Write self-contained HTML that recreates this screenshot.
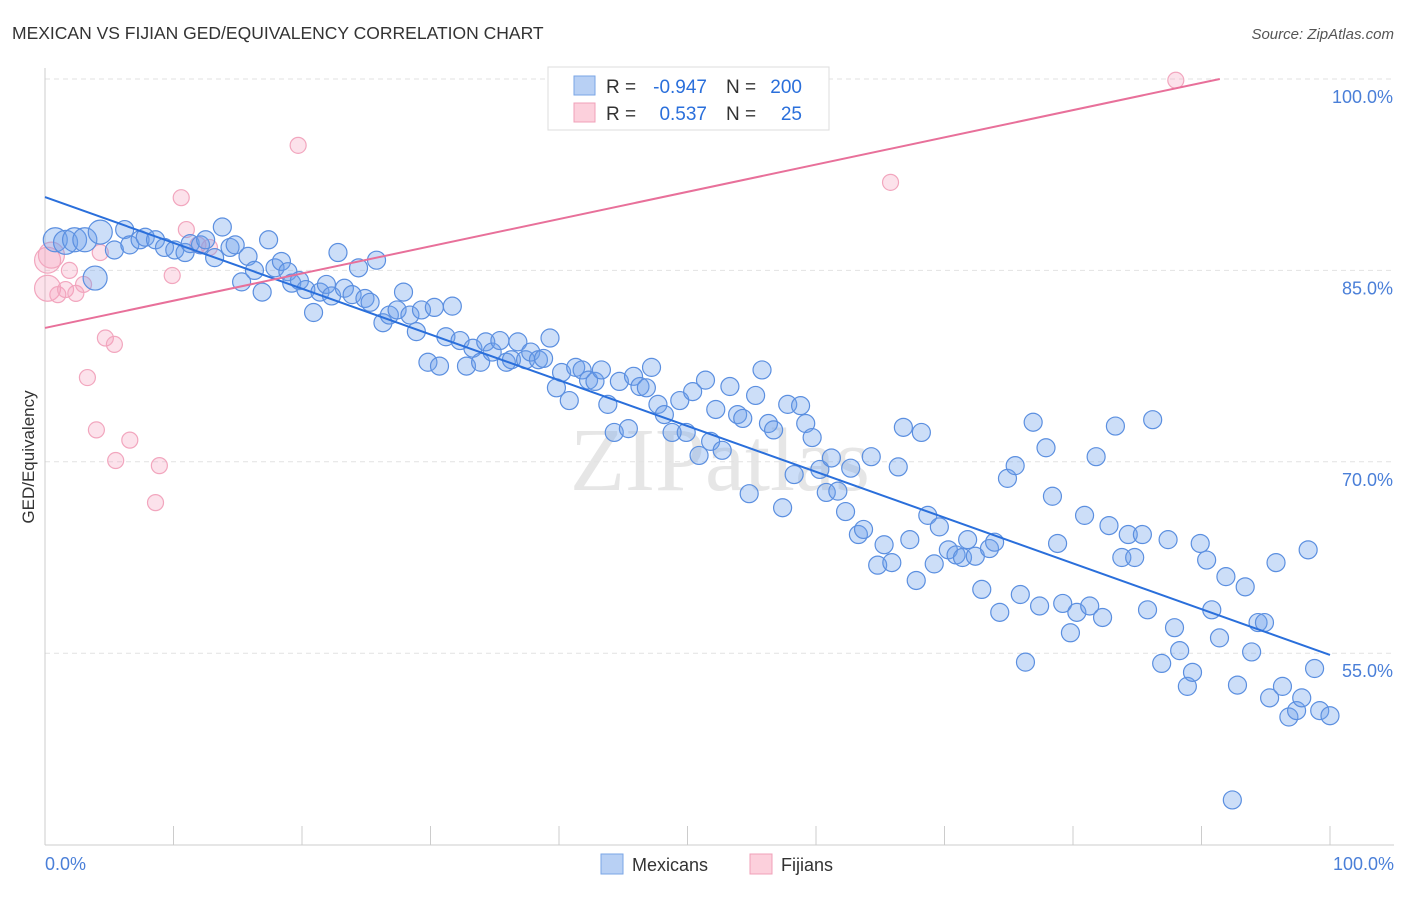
<!DOCTYPE html>
<html><head><meta charset="utf-8"><style>
body{margin:0;background:#fff;width:1406px;height:892px;overflow:hidden;font-family:"Liberation Sans",sans-serif}
</style></head><body>
<svg id="chart" width="1406" height="892" xmlns="http://www.w3.org/2000/svg">
<text x="12" y="39" font-size="17.5" fill="#333">MEXICAN VS FIJIAN GED/EQUIVALENCY CORRELATION CHART</text>
<text x="1394" y="39" font-size="15" fill="#555" font-style="italic" text-anchor="end">Source: ZipAtlas.com</text>
<text x="720" y="490" font-size="90" fill="#e6e6e6" text-anchor="middle" font-family="Liberation Serif,serif">ZIPatlas</text>
<g id="grid"></g>
<line x1="45" y1="68" x2="45" y2="845" stroke="#ccc"/>
<line x1="45" y1="845" x2="1394" y2="845" stroke="#ccc"/>
<g id="xticks"></g>
<g id="ylabels"></g>
<text x="45" y="870" font-size="18" fill="#4a7fd8">0.0%</text>
<text x="1394" y="870" font-size="18" fill="#4a7fd8" text-anchor="end">100.0%</text>
<text transform="translate(34,457) rotate(-90)" font-size="17" fill="#333" text-anchor="middle">GED/Equivalency</text>
<g id="pinkpts"></g>
<g id="bluepts"></g>
<g id="lines"></g>
<g font-size="19">
<rect x="548" y="67" width="281" height="63" fill="#fff" stroke="#ddd"/>
<rect x="574" y="76" width="21" height="19" fill="#b8d0f4" stroke="#7aa6e6"/>
<rect x="574" y="103" width="21" height="19" fill="#fcd0dc" stroke="#f0a0b8"/>
<text x="606" y="93" fill="#333">R =</text>
<text x="707" y="93" fill="#2a6fdb" text-anchor="end">-0.947</text>
<text x="726" y="93" fill="#333">N =</text>
<text x="802" y="93" fill="#2a6fdb" text-anchor="end">200</text>
<text x="606" y="120" fill="#333">R =</text>
<text x="707" y="120" fill="#2a6fdb" text-anchor="end">0.537</text>
<text x="726" y="120" fill="#333">N =</text>
<text x="802" y="120" fill="#2a6fdb" text-anchor="end">25</text>
</g>
<g>
<rect x="601" y="854" width="22" height="20" fill="#b8d0f4" stroke="#7aa6e6"/>
<text x="632" y="871" font-size="18" fill="#333">Mexicans</text>
<rect x="750" y="854" width="22" height="20" fill="#fcd0dc" stroke="#f0a0b8"/>
<text x="781" y="871" font-size="18" fill="#333">Fijians</text>
</g>
</svg>
<script>
const blueX=[0.8,1.6,2.3,3.1,3.9,4.3,5.4,6.2,6.6,7.4,7.8,8.6,9.3,10.1,10.9,11.3,12.1,12.5,13.2,13.8,14.4,14.8,15.3,15.8,16.3,16.9,17.4,17.9,18.4,18.9,19.2,19.8,20.3,20.9,21.4,21.9,22.3,22.8,23.3,23.9,24.4,24.9,25.3,25.8,26.3,26.8,27.4,27.9,28.4,28.9,29.3,29.8,30.3,30.7,31.2,31.7,32.3,32.8,33.3,33.9,34.3,34.8,35.4,35.9,36.3,36.8,37.4,37.8,38.4,38.8,39.3,39.8,40.2,40.8,41.3,41.8,42.3,42.8,43.3,43.8,44.3,44.7,45.4,45.8,46.3,46.8,47.2,47.7,48.2,48.8,49.4,49.9,50.4,50.9,51.4,51.8,52.2,52.7,53.3,53.9,54.3,54.8,55.3,55.8,56.3,56.7,57.4,57.8,58.3,58.8,59.2,59.7,60.3,60.8,61.2,61.7,62.3,62.7,63.3,63.7,64.3,64.8,65.3,65.9,66.4,66.8,67.3,67.8,68.2,68.7,69.2,69.6,70.3,70.9,71.4,71.8,72.4,72.9,73.5,73.9,74.3,74.9,75.5,75.9,76.3,76.9,77.4,77.9,78.4,78.8,79.2,79.8,80.3,80.9,81.3,81.8,82.3,82.8,83.3,83.8,84.3,84.8,85.4,85.8,86.2,86.9,87.4,87.9,88.3,88.9,89.3,89.9,90.4,90.8,91.4,91.9,92.4,92.8,93.4,93.9,94.4,94.9,95.3,95.8,96.3,96.8,97.4,97.8,98.3,98.8,99.2,100];
const blueY=[87.4,87.2,87.4,87.4,84.4,88.0,86.6,88.2,87.0,87.4,87.6,87.4,86.8,86.6,86.4,87.1,87.0,87.4,86.0,88.4,86.8,87.0,84.1,86.1,85.0,83.3,87.4,85.2,85.7,84.9,84.0,84.2,83.5,81.7,83.3,83.9,83.0,86.4,83.6,83.1,85.2,82.8,82.5,85.8,80.9,81.5,81.9,83.3,81.5,80.2,81.9,77.8,82.1,77.5,79.8,82.2,79.5,77.5,78.9,77.8,79.4,78.6,79.5,77.8,78.0,79.4,78.0,78.6,78.0,78.1,79.7,75.8,77.0,74.8,77.4,77.2,76.4,76.3,77.2,74.5,72.3,76.3,72.6,76.7,75.9,75.8,77.4,74.5,73.7,72.3,74.8,72.3,75.5,70.5,76.4,71.6,74.1,70.9,75.9,73.7,73.4,67.5,75.2,77.2,73.0,72.5,66.4,74.5,69.0,74.4,73.0,71.9,69.4,67.6,70.3,67.7,66.1,69.5,64.3,64.7,70.4,61.9,63.5,62.1,69.6,72.7,63.9,60.7,72.3,65.8,62.0,64.9,63.1,62.7,62.5,63.9,62.6,60.0,63.2,63.7,58.2,68.7,69.7,59.6,54.3,73.1,58.7,71.1,67.3,63.6,58.9,56.6,58.2,65.8,58.7,70.4,57.8,65.0,72.8,62.5,64.3,62.5,64.3,58.4,73.3,54.2,63.9,57.0,55.2,52.4,53.5,63.6,62.3,58.4,56.2,61.0,43.5,52.5,60.2,55.1,57.4,57.4,51.5,62.1,52.4,50.0,50.5,51.5,63.1,53.8,50.5,50.1];
const pinkX=[0.2,0.2,0.5,1.0,1.6,1.9,2.4,3.0,3.3,4.0,4.3,4.7,5.4,5.5,6.6,8.6,8.9,9.9,10.6,11.0,12.8,19.7,65.8,88.0,11.9];
const pinkY=[85.8,83.6,86.2,83.1,83.5,85.0,83.2,83.9,76.6,72.5,86.4,79.7,79.2,70.1,71.7,66.8,69.7,84.6,90.7,88.2,86.8,94.8,91.9,99.9,87.0];
const yTicks=[100,85,70,55];
const yTickLabels=["100.0%","85.0%","70.0%","55.0%"];
const xTicks=[0,10,20,30,40,50,60,70,80,90,100];
const blueFit=[90.75,54.86];
const pinkFit=[80.49,101.83];
const NS="http://www.w3.org/2000/svg";
const sx=v=>45+v*12.85;
const sy=v=>79+(100-v)*12.76;
function mk(tag,attrs,parent){const e=document.createElementNS(NS,tag);for(const k in attrs)e.setAttribute(k,attrs[k]);parent.appendChild(e);return e;}
const grid=document.getElementById('grid'),yl=document.getElementById('ylabels'),xt=document.getElementById('xticks');
yTicks.forEach((t,i)=>{
 const l=mk('line',{x1:45,x2:1394,y1:sy(t),y2:sy(t),stroke:'#e2e2e2','stroke-dasharray':'5,4'},grid);
 
 
 const tx=mk('text',{x:1393,y:sy(t)+24,'font-size':18,fill:'#4a7fd8','text-anchor':'end'},yl);
 tx.textContent=yTickLabels[i];
 
 
});
xTicks.forEach(t=>{
 const l=mk('line',{x1:sx(t),x2:sx(t),y1:826,y2:845,stroke:'#ccc'},xt);
 
 
});
const pg=document.getElementById('pinkpts');
pinkX.forEach((x,i)=>{
 const r=(x<0.6)?13:8;
 const c=mk('circle',{cx:sx(x),cy:sy(pinkY[i]),r:r,fill:'rgba(244,160,188,0.3)',stroke:'#f2a6be','stroke-width':1.2},pg);
 
 
});
const bg=document.getElementById('bluepts');
blueX.forEach((x,i)=>{
 const r=(x<4.5)?12:9;
 const c=mk('circle',{cx:sx(x),cy:sy(blueY[i]),r:r,fill:'rgba(110,160,235,0.35)',stroke:'#5b8fe0','stroke-width':1.2},bg);
 
 
});
const lg=document.getElementById('lines');
const bl=mk('line',{x1:sx(0),y1:sy(blueFit[0]),x2:sx(100),y2:sy(blueFit[1]),stroke:'#2a6fdb','stroke-width':2},lg);


const pend=(100-pinkFit[0])/(pinkFit[1]-pinkFit[0])*100;
const pl=mk('line',{x1:sx(0),y1:sy(pinkFit[0]),x2:sx(pend),y2:sy(100),stroke:'#e8709a','stroke-width':2},lg);


</script>
</body></html>
